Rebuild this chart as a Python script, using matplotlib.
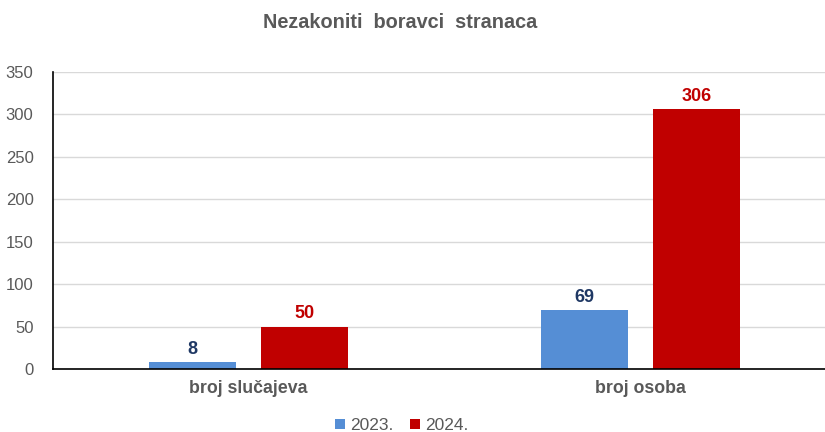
import matplotlib
matplotlib.use("Agg")
import matplotlib.pyplot as plt
import numpy as np

plt.rcParams['font.family'] = ['Liberation Sans', 'DejaVu Sans']

categories = ["broj slučajeva", "broj osoba"]
series_names = ["2023.", "2024."]
values_2023 = [8, 69]
values_2024 = [50, 306]
colors = ["#558ED5", "#C00000"]
label_colors = ["#1F3864", "#C00000"]

fig = plt.figure(figsize=(8.25, 4.32), dpi=100)
ax = fig.add_axes([0.0642, 0.1458, 0.9358, 0.6875])

x = np.arange(len(categories))
w = 0.222
off = 0.143
for vals, o, c, lc, name in [(values_2023, -off, colors[0], label_colors[0], series_names[0]),
                             (values_2024, off, colors[1], label_colors[1], series_names[1])]:
    bars = ax.bar(x + o, vals, width=w, color=c, label=name, zorder=3)
    for b, v in zip(bars, vals):
        ax.text(b.get_x() + b.get_width() / 2, v + 5, str(v), ha='center', va='bottom',
                fontsize=13, fontweight='bold', color=lc)

ax.set_xlim(-0.5, 1.472)
ax.set_ylim(0, 350)
ax.set_yticks(range(0, 351, 50))
ax.set_xticks(x)
ax.set_xticklabels(categories, fontsize=12.8, fontweight='bold', color='#595959')
ax.tick_params(axis='y', labelsize=12, colors='#595959', length=0, pad=14)
ax.tick_params(axis='x', length=0, pad=8)
ax.grid(axis='y', color='#D9D9D9', linewidth=1, zorder=0)
for s in ['top', 'right']:
    ax.spines[s].set_visible(False)
ax.spines['left'].set_color('black')
ax.spines['bottom'].set_color('black')
ax.spines['left'].set_linewidth(1.2)
ax.spines['bottom'].set_linewidth(1.2)
ax.spines['left'].set_zorder(4)
ax.spines['bottom'].set_zorder(4)

fig.text(0.485, 0.947, "Nezakoniti  boravci  stranaca", ha='center', va='center',
         fontsize=14.3, fontweight='bold', color='#595959')

leg = fig.legend(loc='center', bbox_to_anchor=(0.487, 0.015), ncol=2, frameon=False,
                 fontsize=12.5, handlelength=0.55, handleheight=0.55, handletextpad=0.3,
                 columnspacing=1.0)
for t in leg.get_texts():
    t.set_color('#595959')

fig.savefig("out.png", dpi=100)
